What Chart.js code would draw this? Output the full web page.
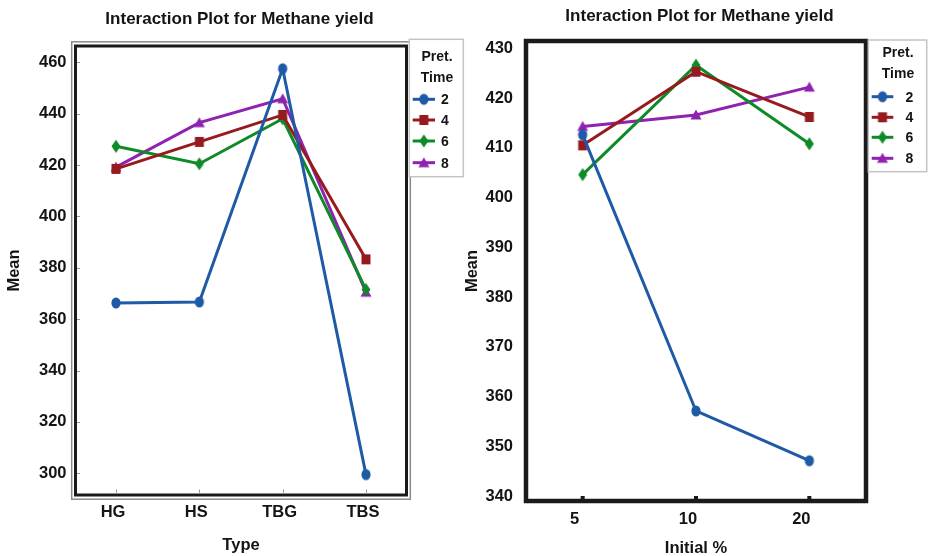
<!DOCTYPE html>
<html><head><meta charset="utf-8">
<script src="https://cdn.jsdelivr.net/npm/chart.js@4/dist/chart.umd.min.js"></script>
<style>
html,body{margin:0;padding:0;background:#fff;}
#wrap{position:relative;width:929px;height:556px;overflow:hidden;background:#fff;}
canvas{position:absolute;top:0;}
</style></head><body>
<div id="wrap">
<canvas id="c1" width="465" height="556" style="left:0px"></canvas>
<canvas id="c2" width="464" height="556" style="left:465px"></canvas>
</div>
<script>
// ---------- data ----------
const chartTitle = 'Interaction Plot for Methane yield';
const legendTitle = ['Pret.', 'Time'];
const seriesNames = ['2', '4', '6', '8'];

const typeCategories = ['HG', 'HS', 'TBG', 'TBS'];
const typeTime2 = [366.3, 366.7, 457.5, 299.5];
const typeTime4 = [418.5, 429.0, 439.5, 383.3];
const typeTime6 = [427.3, 420.5, 438.0, 371.5];
const typeTime8 = [419.2, 436.5, 445.8, 370.5];
const typeYTicks = [300, 320, 340, 360, 380, 400, 420, 440, 460];

const initialCategories = ['5', '10', '20'];
const initTime2 = [412.6, 357.1, 347.1];
const initTime4 = [410.5, 425.3, 416.2];
const initTime6 = [404.6, 426.6, 410.8];
const initTime8 = [414.3, 416.6, 422.2];
const initYTicks = [340, 350, 360, 370, 380, 390, 400, 410, 420, 430];

// ---------- styles ----------
const FONT = "'Liberation Sans', Arial, Helvetica, sans-serif";
const TXT = '#141414';
const colors = ['#1f5aa6', '#971b1e', '#0e8a27', '#8f22b0'];
const shapes = ['circle', 'square', 'diamond', 'triangle'];

function makeMarker(shape, color) {
  const c = document.createElement('canvas');
  c.width = 14; c.height = 16;
  const g = c.getContext('2d');
  g.fillStyle = color;
  g.beginPath();
  if (shape === 'circle') g.ellipse(7, 8, 4.6, 5.6, 0, 0, Math.PI * 2);
  else if (shape === 'square') g.rect(2.5, 3, 9, 10);
  else if (shape === 'diamond') { g.moveTo(7, 1.5); g.lineTo(11.5, 8); g.lineTo(7, 14.5); g.lineTo(2.5, 8); g.closePath(); }
  else { g.moveTo(7, 2.5); g.lineTo(12.5, 12.5); g.lineTo(1.5, 12.5); g.closePath(); }
  g.fill();
  return c;
}
const markers = colors.map((c, i) => makeMarker(shapes[i], c));

function makeDatasets(seriesList) {
  return seriesList.map((vals, i) => ({
    label: seriesNames[i],
    data: vals.map((v, k) => ({ x: k, y: v })),
    borderColor: colors[i],
    backgroundColor: colors[i],
    borderWidth: 3,
    pointStyle: markers[i],
    pointRadius: 5,
    tension: 0
  }));
}

function decorPlugin(o) {
  return {
    id: 'decor',
    afterDatasetsDraw(chart) {
      const ctx = chart.ctx, a = chart.chartArea;
      ctx.save();
      if (o.doubleFrame) {
        ctx.strokeStyle = '#8a8a8a'; ctx.lineWidth = 1.5;
        ctx.strokeRect(a.left - 3.8, a.top - 4.2, a.right - a.left + 7.6, a.bottom - a.top + 8.4);
        ctx.strokeStyle = '#1a1a1a'; ctx.lineWidth = 3;
        ctx.strokeRect(a.left, a.top, a.right - a.left, a.bottom - a.top);
        ctx.strokeStyle = '#9a9a9a'; ctx.lineWidth = 1;
        chart.scales.x.ticks.forEach(t => {
          const x = Math.round(chart.scales.x.getPixelForValue(t.value)) + 0.5;
          ctx.beginPath(); ctx.moveTo(x, a.bottom - 1.5); ctx.lineTo(x, a.bottom - 5.5); ctx.stroke();
        });
        chart.scales.y.ticks.forEach(t => {
          const y = Math.round(chart.scales.y.getPixelForValue(t.value)) + 0.5;
          ctx.beginPath(); ctx.moveTo(a.left + 1.5, y); ctx.lineTo(a.left + 4.5, y); ctx.stroke();
        });
      } else {
        ctx.strokeStyle = '#1a1a1a'; ctx.lineWidth = 4.5;
        ctx.strokeRect(a.left, a.top, a.right - a.left, a.bottom - a.top);
        ctx.fillStyle = '#1a1a1a';
        chart.scales.x.ticks.forEach(t => {
          const x = chart.scales.x.getPixelForValue(t.value);
          ctx.fillRect(x - 2, a.bottom - 5, 4, 3);
        });
      }
      ctx.restore();
    },
    afterDraw(chart) {
      const ctx = chart.ctx;
      ctx.save();
      // title
      ctx.fillStyle = TXT;
      ctx.font = `bold 17px ${FONT}`;
      ctx.textAlign = 'center'; ctx.textBaseline = 'alphabetic';
      ctx.fillText(chartTitle, o.titleX, o.titleY);
      // legend
      const L = o.legend;
      ctx.fillStyle = '#ffffff';
      ctx.fillRect(L.x, L.y, L.w, L.h);
      ctx.strokeStyle = '#c4c4c4'; ctx.lineWidth = 1.5;
      ctx.strokeRect(L.x, L.y, L.w, L.h);
      ctx.fillStyle = TXT;
      ctx.font = `bold 14px ${FONT}`;
      ctx.fillText(legendTitle[0], L.titleX, L.rows[0] + 5);
      ctx.fillText(legendTitle[1], L.titleX, L.rows[1] + 5);
      chart.data.datasets.forEach((ds, i) => {
        const y = L.rows[i + 2];
        ctx.strokeStyle = ds.borderColor; ctx.lineWidth = 3;
        ctx.beginPath(); ctx.moveTo(L.lineX0, y); ctx.lineTo(L.lineX1, y); ctx.stroke();
        const m = markers[i];
        ctx.drawImage(m, (L.lineX0 + L.lineX1) / 2 - m.width / 2, y - m.height / 2);
        ctx.fillStyle = TXT;
        ctx.textAlign = 'center';
        ctx.fillText(ds.label, L.textX, y + 5);
      });
      ctx.restore();
    }
  };
}

const tickFont = { family: FONT, size: 16.5, weight: 'bold' };
const axisTitleFont = { family: FONT, size: 16.5, weight: 'bold', lineHeight: 0.875 };

function makeChart(canvas, cats, series, yTicks, geo) {
  return new Chart(canvas, {
    type: 'line',
    data: { datasets: makeDatasets(series) },
    options: {
      responsive: false,
      animation: false,
      devicePixelRatio: 1,
      layout: { padding: { left: 0, top: geo.top, right: geo.right, bottom: 0 } },
      plugins: { legend: { display: false }, tooltip: { enabled: false }, title: { display: false } },
      scales: {
        x: {
          type: 'linear', min: geo.xMin, max: geo.xMax,
          grid: { display: false, drawTicks: false }, border: { display: false },
          afterBuildTicks: s => { s.ticks = cats.map((_, i) => ({ value: i })); },
          afterFit: s => { s.height = geo.xHeight; },
          ticks: { callback: v => cats[v], padding: geo.xPad, labelOffset: geo.labelOffset, autoSkip: false, maxRotation: 0, font: tickFont, color: TXT },
          title: { display: true, text: geo.xTitle, font: axisTitleFont, color: TXT, padding: { top: 0, bottom: geo.xTitlePad } }
        },
        y: {
          min: geo.yMin, max: geo.yMax,
          grid: { display: false, drawTicks: false }, border: { display: false },
          afterBuildTicks: s => { s.ticks = yTicks.map(v => ({ value: v })); },
          afterFit: s => { s.width = geo.yWidth; },
          ticks: { padding: geo.yPad, font: tickFont, color: TXT },
          title: { display: true, text: 'Mean', font: axisTitleFont, color: TXT, padding: { top: geo.yTitlePad, bottom: 0 } }
        }
      }
    },
    plugins: [decorPlugin(geo)]
  });
}

makeChart(document.getElementById('c1'), typeCategories,
  [typeTime2, typeTime4, typeTime6, typeTime8], typeYTicks, {
    top: 46, right: 58.5, xMin: -0.486, xMax: 3.486, xHeight: 61, labelOffset: -3, xPad: 8,
    xTitle: 'Type', xTitlePad: 3.5, yMin: 291.55, yMax: 466.34, yWidth: 75.5, yPad: 9, yTitlePad: 7,
    doubleFrame: true, titleX: 239.5, titleY: 24,
    legend: { x: 409.3, y: 39.3, w: 54, h: 137.4, titleX: 437, rows: [56, 77.3, 99.3, 120, 141, 162.7],
              lineX0: 412.7, lineX1: 435, textX: 445 }
  });

makeChart(document.getElementById('c2'), initialCategories,
  [initTime2, initTime4, initTime6, initTime8], initYTicks, {
    top: 41, right: 63, xMin: -0.5, xMax: 2.5, xHeight: 55, labelOffset: -8, xPad: 9,
    xTitle: 'Initial %', xTitlePad: 0.5, yMin: 339.0, yMax: 431.47, yWidth: 61, yPad: 13, yTitlePad: 0,
    doubleFrame: false, titleX: 234.5, titleY: 20.7,
    legend: { x: 403.3, y: 40, w: 58.4, h: 131.7, titleX: 433, rows: [51.7, 73.3, 96.7, 117.3, 137.3, 158.3],
              lineX0: 406.7, lineX1: 428.3, textX: 444.3 }
  });
</script>
</body></html>
